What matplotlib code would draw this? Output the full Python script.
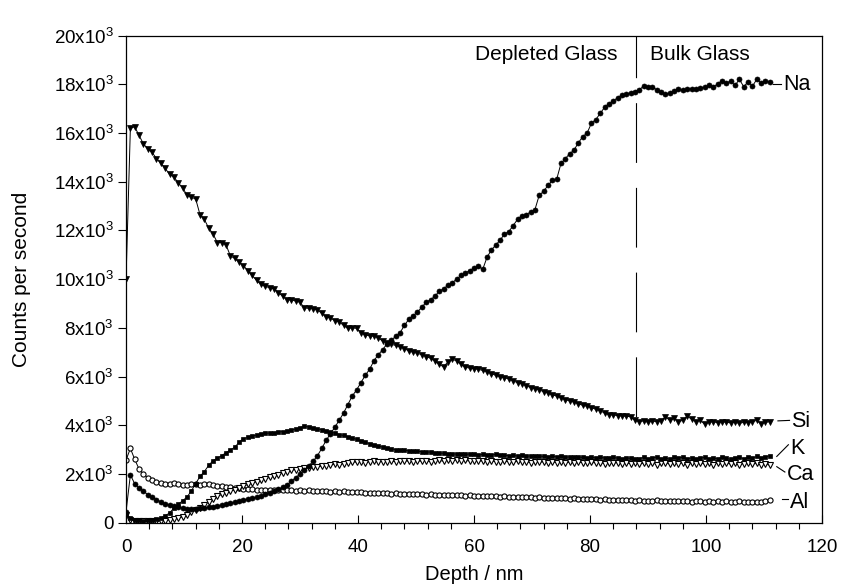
import numpy as np
import matplotlib
matplotlib.use('Agg')
import matplotlib.pyplot as plt
from matplotlib.ticker import MultipleLocator, FuncFormatter

plt.rcParams['font.family'] = ['Liberation Sans', 'DejaVu Sans']
plt.rcParams['font.size'] = 13.5
plt.rcParams['mathtext.fontset'] = 'custom'
plt.rcParams['mathtext.rm'] = 'Liberation Sans'
plt.rcParams['mathtext.default'] = 'regular'
plt.rcParams['lines.scale_dashes'] = False

# depth grid of the profile, nm (one sample every 0.75 nm)
depth = np.arange(149) * 0.75

# counts per second, in thousands
na = [0.45, 1.96, 1.6, 1.42, 1.3, 1.15, 1.05, 0.95,
      0.85, 0.78, 0.72, 0.67, 0.63, 0.6, 0.57, 0.56,
      0.58, 0.6, 0.61, 0.64, 0.66, 0.69, 0.72, 0.76,
      0.8, 0.84, 0.88, 0.93, 0.97, 1.0, 1.05, 1.1,
      1.16, 1.22, 1.3, 1.37, 1.45, 1.56, 1.7, 1.85,
      2.0, 2.15, 2.33, 2.52, 2.75, 3.05, 3.38, 3.65,
      3.92, 4.2, 4.5, 4.85, 5.2, 5.45, 5.75, 6.05,
      6.3, 6.65, 6.9, 7.1, 7.35, 7.5, 7.65, 7.8,
      8.1, 8.35, 8.5, 8.65, 8.85, 9.05, 9.15, 9.3,
      9.5, 9.6, 9.75, 9.85, 10.0, 10.15, 10.25, 10.35,
      10.45, 10.55, 10.4, 10.9, 11.2, 11.4, 11.6, 11.85,
      11.95, 12.2, 12.45, 12.6, 12.65, 12.75, 12.85, 13.45,
      13.6, 13.85, 14.05, 14.1, 14.75, 14.95, 15.15, 15.3,
      15.6, 15.85, 16.0, 16.4, 16.55, 16.8, 17.05, 17.2,
      17.3, 17.45, 17.55, 17.6, 17.65, 17.7, 17.78, 17.92,
      17.9, 17.88, 17.78, 17.68, 17.58, 17.65, 17.72, 17.8,
      17.75, 17.8, 17.82, 17.8, 17.85, 17.88, 17.95, 17.9,
      18.0, 18.15, 18.05, 18.12, 17.95, 18.2, 17.9, 18.1,
      17.92, 18.2, 18.05, 18.15, 18.08]

si = [10.0, 16.2, 16.25, 15.9, 15.55, 15.35, 15.2, 14.95,
      14.75, 14.55, 14.3, 14.2, 13.95, 13.75, 13.45, 13.35,
      13.3, 12.65, 12.45, 12.1, 11.85, 11.5, 11.5, 11.4,
      10.95, 10.85, 10.7, 10.55, 10.35, 10.15, 9.95, 9.78,
      9.7, 9.65, 9.6, 9.45, 9.3, 9.15, 9.15, 9.1,
      9.05, 8.82, 8.8, 8.78, 8.74, 8.6, 8.45, 8.4,
      8.3, 8.25, 8.1, 7.98, 8.0, 7.98, 7.8, 7.7,
      7.68, 7.65, 7.6, 7.45, 7.38, 7.32, 7.28, 7.22,
      7.15, 7.05, 7.0, 6.95, 6.9, 6.82, 6.75, 6.65,
      6.5, 6.4, 6.6, 6.7, 6.65, 6.5, 6.38, 6.35,
      6.32, 6.3, 6.25, 6.2, 6.12, 6.05, 6.0, 5.95,
      5.9, 5.82, 5.75, 5.7, 5.62, 5.55, 5.5, 5.45,
      5.38, 5.32, 5.25, 5.2, 5.12, 5.05, 5.0, 4.95,
      4.88, 4.82, 4.78, 4.72, 4.66, 4.6, 4.5, 4.44,
      4.42, 4.4, 4.38, 4.37, 4.35, 4.2, 4.15, 4.18,
      4.12, 4.17, 4.15, 4.18, 4.35, 4.2, 4.28, 4.15,
      4.2, 4.38, 4.25, 4.15, 4.2, 4.05, 4.12, 4.15,
      4.1, 4.15, 4.12, 4.1, 4.12, 4.08, 4.12, 4.1,
      4.15, 4.2, 4.05, 4.12, 4.15]

k = [0.35, 0.2, 0.12, 0.1, 0.09, 0.1, 0.12, 0.15,
     0.2, 0.28, 0.4, 0.6, 0.75, 0.9, 1.05, 1.3,
     1.6, 1.9, 2.1, 2.35, 2.55, 2.65, 2.75, 2.88,
     2.98, 3.1, 3.3, 3.45, 3.5, 3.55, 3.6, 3.65,
     3.67, 3.68, 3.7, 3.72, 3.74, 3.75, 3.8, 3.85,
     3.9, 3.95, 3.93, 3.88, 3.85, 3.82, 3.78, 3.72,
     3.68, 3.62, 3.58, 3.53, 3.48, 3.42, 3.35, 3.3,
     3.25, 3.2, 3.15, 3.1, 3.06, 3.03, 3.0, 2.98,
     2.97, 2.95, 2.94, 2.93, 2.92, 2.9, 2.9, 2.88,
     2.86, 2.85, 2.83, 2.82, 2.82, 2.8, 2.8, 2.82,
     2.8, 2.78, 2.8, 2.78, 2.78, 2.8, 2.79, 2.77,
     2.75, 2.76, 2.74, 2.76, 2.73, 2.74, 2.72, 2.74,
     2.72, 2.71, 2.73, 2.7, 2.72, 2.69, 2.7, 2.68,
     2.7, 2.68, 2.66, 2.7, 2.65, 2.68, 2.66, 2.64,
     2.68, 2.65, 2.62, 2.66, 2.64, 2.6, 2.63, 2.68,
     2.6, 2.65, 2.7, 2.62, 2.66, 2.6, 2.68, 2.64,
     2.7, 2.62, 2.66, 2.6, 2.65, 2.68, 2.6, 2.66,
     2.62, 2.68, 2.64, 2.6, 2.66, 2.7, 2.62, 2.68,
     2.65, 2.72, 2.66, 2.7, 2.75]

ca = [0.3, 0.12, 0.08, 0.06, 0.05, 0.05, 0.05, 0.06,
      0.07, 0.09, 0.11, 0.14, 0.18, 0.24, 0.32, 0.42,
      0.52, 0.62, 0.74, 0.85, 0.97, 1.08, 1.16, 1.23,
      1.3, 1.36, 1.42, 1.5, 1.57, 1.62, 1.68, 1.75,
      1.8, 1.86, 1.9, 1.95, 2.05, 2.1, 2.15, 2.18,
      2.2, 2.23, 2.25, 2.28, 2.3, 2.32, 2.34, 2.36,
      2.4, 2.38, 2.43, 2.45, 2.5, 2.48, 2.5, 2.47,
      2.5, 2.52, 2.49, 2.51, 2.5, 2.53, 2.5, 2.52,
      2.55, 2.52, 2.5, 2.54, 2.52, 2.55, 2.5, 2.53,
      2.56, 2.52, 2.57, 2.55, 2.58, 2.54, 2.56, 2.53,
      2.55, 2.52, 2.54, 2.5, 2.53, 2.51, 2.5, 2.52,
      2.5, 2.48, 2.52, 2.49, 2.5, 2.47, 2.5, 2.48,
      2.5, 2.46, 2.49, 2.47, 2.5, 2.46, 2.48, 2.45,
      2.48, 2.46, 2.44, 2.48, 2.45, 2.47, 2.43, 2.46,
      2.44, 2.47, 2.43, 2.45, 2.42, 2.46, 2.4, 2.45,
      2.42, 2.47, 2.38, 2.44, 2.46, 2.4, 2.45, 2.42,
      2.46, 2.38, 2.44, 2.42, 2.47, 2.4, 2.44, 2.38,
      2.45, 2.42, 2.46, 2.4, 2.44, 2.38, 2.43, 2.46,
      2.4, 2.44, 2.38, 2.42, 2.35]

al = [2.57, 3.05, 2.6, 2.2, 2.0, 1.85, 1.76, 1.68,
      1.63, 1.6, 1.58, 1.63, 1.57, 1.55, 1.56, 1.57,
      1.58, 1.55, 1.57, 1.6, 1.56, 1.52, 1.5, 1.48,
      1.46, 1.44, 1.42, 1.4, 1.38, 1.37, 1.36, 1.36,
      1.35, 1.34, 1.35, 1.34, 1.33, 1.34, 1.33, 1.32,
      1.33, 1.32, 1.33, 1.31, 1.3, 1.31, 1.3, 1.28,
      1.29, 1.27, 1.3, 1.26, 1.25, 1.24, 1.25, 1.23,
      1.22, 1.23, 1.21, 1.2, 1.21, 1.19, 1.2, 1.18,
      1.17, 1.19, 1.17, 1.16, 1.18, 1.15, 1.16, 1.12,
      1.15, 1.14, 1.12, 1.14, 1.12, 1.13, 1.11, 1.12,
      1.1, 1.11, 1.09, 1.1, 1.08, 1.09, 1.07, 1.08,
      1.06, 1.07, 1.05, 1.06, 1.04, 1.05, 1.03, 1.04,
      1.02, 1.03, 1.01, 1.02, 1.0, 1.01, 0.99, 1.0,
      0.98, 0.99, 0.97, 0.96, 0.97, 0.95, 0.96, 0.94,
      0.95, 0.93, 0.94, 0.92, 0.93, 0.91, 0.92, 0.9,
      0.91, 0.89, 0.92, 0.9, 0.88, 0.9, 0.89, 0.91,
      0.88, 0.9, 0.87, 0.89, 0.88, 0.86, 0.89, 0.87,
      0.88, 0.86, 0.88, 0.87, 0.85, 0.88, 0.86, 0.87,
      0.85, 0.87, 0.86, 0.88, 0.93]

# element labels at the right end: (name, leader start, leader end, text position)
labels = [('Na', (111.6, 18.0), (113.0, 18.0), (113.3, 17.97)),
          ('Si', (112.4, 4.18), (114.4, 4.2), (114.7, 4.16)),
          ('K', (112.2, 2.72), (114.2, 3.2), (114.6, 3.03)),
          ('Ca', (112.2, 2.3), (113.6, 2.08), (113.9, 1.96)),
          ('Al', (113.1, 0.98), (114.1, 0.98), (114.4, 0.84))]

boundary = 88.0

fig = plt.figure(figsize=(8.43, 5.85), dpi=100)
ax = fig.add_axes([0.1495, 0.1065, 0.8256, 0.8328])

line_kw = dict(color='black', lw=0.7, mec='black')
ax.plot(depth, np.array(al) * 1000, marker='o', ms=3.7, mfc='white', mew=0.8, **line_kw)
ax.plot(depth, np.array(ca) * 1000, marker='v', ms=4.3, mfc='white', mew=0.8, **line_kw)
ax.plot(depth, np.array(k) * 1000, marker='s', ms=3.5, mfc='black', mew=0.5, **line_kw)
ax.plot(depth, np.array(si) * 1000, marker='v', ms=4.7, mfc='black', mew=0.5, **line_kw)
ax.plot(depth, np.array(na) * 1000, marker='o', ms=3.6, mfc='black', mew=0.5, **line_kw)

for name, p0, p1, pt in labels:
    ax.plot([p0[0], p1[0]], [p0[1] * 1000, p1[1] * 1000], color='black', lw=0.8,
            clip_on=False)
    ax.text(pt[0], pt[1] * 1000, name, ha='left', va='center', fontsize=15.5)

ax.plot([boundary, boundary], [20000, 3700], color='black', lw=0.8,
        linestyle=(13, (43, 18)))
ax.text(boundary - 3.2, 19200, 'Depleted Glass', ha='right', va='center', fontsize=15)
ax.text(boundary + 2.3, 19200, 'Bulk Glass', ha='left', va='center', fontsize=15)

ax.set_xlim(0, 120)
ax.set_ylim(0, 20000)
ax.xaxis.set_major_locator(MultipleLocator(20))
ax.xaxis.set_minor_locator(MultipleLocator(4))
ax.yaxis.set_major_locator(MultipleLocator(2000))
ax.yaxis.set_major_formatter(FuncFormatter(
    lambda v, pos: '0' if v == 0 else '%dx10$^3$' % round(v / 1000)))

ax.tick_params(axis='x', which='major', direction='in', length=5.5, width=0.8, pad=12)
ax.tick_params(axis='x', which='minor', direction='out', length=4, width=0.8)
ax.tick_params(axis='y', which='major', direction='out', length=5.5, width=0.8, pad=3.5)
for s in ax.spines.values():
    s.set_linewidth(0.9)

ax.set_xlabel('Depth / nm', fontsize=14.5)
ax.set_ylabel('Counts per second', fontsize=15)
ax.xaxis.set_label_coords(0.5, -0.087)
ax.yaxis.set_label_coords(-0.137, 0.5)

fig.savefig('out.png', dpi=100)
